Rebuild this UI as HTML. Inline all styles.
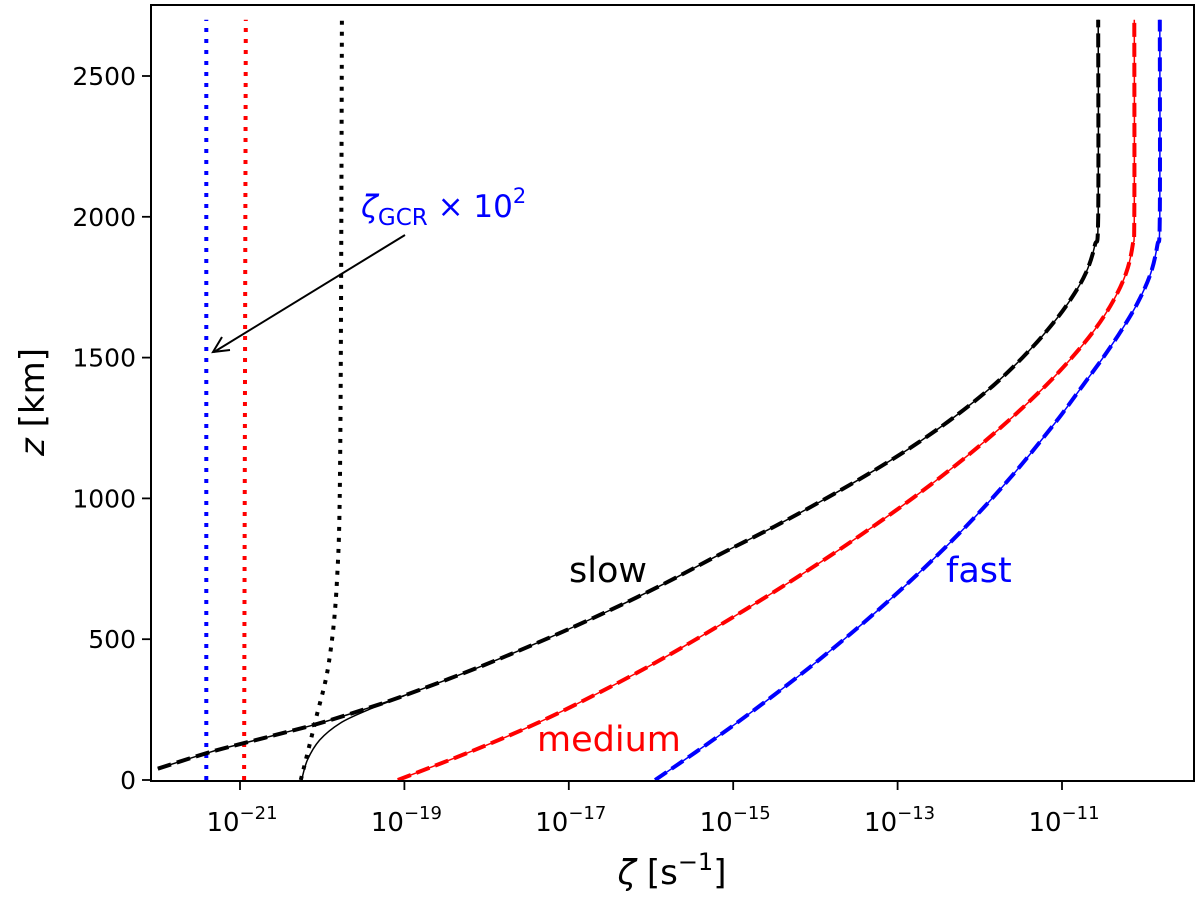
<!DOCTYPE html>
<html><head><meta charset="utf-8"><style>
html,body{margin:0;padding:0;background:#fff;}
svg{display:block;font-family:"DejaVu Sans","Liberation Sans",sans-serif;}
</style></head><body>
<div style="position:relative;width:1200px;height:897px">
<svg id="chart" width="1200" height="897" viewBox="0 0 1200 897" style="position:absolute;left:0;top:0"></svg>
<svg width="1200" height="897" style="position:absolute;left:0;top:0;font-family:'DejaVu Sans','Liberation Sans',sans-serif">
  <text x="672" y="884" text-anchor="middle" font-size="34"><tspan font-style="italic">ζ</tspan> [s<tspan dy="-14" font-size="24">−1</tspan><tspan dy="14">]</tspan></text>
  <text transform="translate(44,402) rotate(-90)" text-anchor="middle" font-size="34"><tspan font-style="italic">z</tspan> [km]</text>
  <text x="569" y="582" font-size="35" fill="#000">slow</text>
  <text x="537" y="751" font-size="35" fill="#ff0000">medium</text>
  <text x="946" y="582" font-size="35" fill="#0000ff">fast</text>
  <text x="361" y="217" font-size="31" fill="#0000ff"><tspan font-style="italic">ζ</tspan><tspan font-size="23" dy="8">GCR</tspan><tspan dy="-8"> × 10</tspan><tspan font-size="21" dy="-14">2</tspan></text>
  <line x1="405" y1="235" x2="214" y2="352" stroke="#000" stroke-width="2"/>
  <polyline points="222,337 213,352 230,350" fill="none" stroke="#000" stroke-width="2"/>
</svg>
</div>
<script>
const xTicks=[-21,-19,-17,-15,-13,-11];
const yTicks=[0,500,1000,1500,2000,2500];
const slowZ=[40,100,150,200,250,300,400,500,600,700,800,900,1000,1100,1200,1300,1400,1500,1600,1700,1800,1900,2000,2700];
const slowLog=[-22.0,-21.35,-20.7,-20.05,-19.5,-19.0,-18.1,-17.28,-16.52,-15.82,-15.17,-14.5,-13.87,-13.28,-12.74,-12.26,-11.84,-11.48,-11.17,-10.91,-10.71,-10.6,-10.56,-10.56];
const medZ=[0,100,200,300,400,500,600,700,800,900,1000,1100,1200,1300,1400,1500,1600,1700,1800,1900,2000,2700];
const medLog=[-19.08,-18.2,-17.4,-16.7,-16.05,-15.45,-14.88,-14.33,-13.8,-13.3,-12.82,-12.37,-11.95,-11.56,-11.2,-10.88,-10.6,-10.38,-10.22,-10.14,-10.12,-10.12];
const fastZ=[0,100,200,300,400,500,600,700,800,900,1000,1100,1200,1300,1400,1500,1600,1700,1800,1900,2000,2700];
const fastLog=[-15.95,-15.45,-14.97,-14.51,-14.07,-13.65,-13.25,-12.87,-12.51,-12.17,-11.85,-11.55,-11.27,-11.0,-10.75,-10.5,-10.27,-10.07,-9.92,-9.84,-9.81,-9.81];
const slowThinZ=[0,71,142,202,248,284,300];
const slowThinLog=[-20.25,-20.18,-20.03,-19.78,-19.45,-19.14,-19.0];
const gcrSlowZ=[0,213,415,710,1200,2700];
const gcrSlowLog=[-20.26,-20.08,-19.92,-19.82,-19.78,-19.76];
const gcrMedZ=[0,2700];
const gcrMedLog=[-20.95,-20.93];
const gcrFastZ=[0,2700];
const gcrFastLog=[-21.41,-21.41];

const L=151,R=1194,T=5,B=781;
const X=v=>240+(v+21)*82.2;
const Y=z=>780-z*0.2816;
const NS="http://www.w3.org/2000/svg";
const svg=document.getElementById('chart');
function mk(tag,attrs,parent){const e=document.createElementNS(NS,tag);for(const k in attrs)e.setAttribute(k,attrs[k]);(parent||svg).appendChild(e);return e;}
const defs=mk('defs',{});
const cp=mk('clipPath',{id:'clip'},defs);
mk('rect',{x:L,y:T,width:R-L,height:B-T},cp);
const g=mk('g',{'clip-path':'url(#clip)'});


function smoothPath(pts){
  if(pts.length<3)return pts.map((p,i)=>(i?'L':'M')+p[0].toFixed(1)+','+p[1].toFixed(1)).join(' ');
  let d='M'+pts[0][0].toFixed(1)+','+pts[0][1].toFixed(1);
  for(let i=0;i<pts.length-1;i++){
    const p0=pts[Math.max(0,i-1)],p1=pts[i],p2=pts[i+1],p3=pts[Math.min(pts.length-1,i+2)];
    const c1=[p1[0]+(p2[0]-p0[0])/6,p1[1]+(p2[1]-p0[1])/6];
    const c2=[p2[0]-(p3[0]-p1[0])/6,p2[1]-(p3[1]-p1[1])/6];
    d+=' C'+c1[0].toFixed(1)+','+c1[1].toFixed(1)+' '+c2[0].toFixed(1)+','+c2[1].toFixed(1)+' '+p2[0].toFixed(1)+','+p2[1].toFixed(1);
  }
  return d;
}
function line(zs,ls,color,w,dash,name){
  const pts=zs.map((z,i)=>[X(ls[i]),Y(z)]);
  const p=mk('path',{d:smoothPath(pts),fill:'none',stroke:color,'stroke-width':w,'stroke-dasharray':dash||'none','stroke-linejoin':'round'},g);
  
  
}
line(gcrFastZ,gcrFastLog,'#0000ff',4,'4,7','gcr-fast-dotted');
line(gcrMedZ,gcrMedLog,'#ff0000',4,'4,7','gcr-medium-dotted');
line(gcrSlowZ,gcrSlowLog,'#000',4,'4,7','gcr-slow-dotted');
line(slowThinZ,slowThinLog,'#000',1.5,null,'slow-solid-thin');
line(slowZ,slowLog,'#000',1.5,null,'slow-solid');
line(slowZ,slowLog,'#000',4,'14,6','slow-dashed');
line(medZ,medLog,'#ff0000',1.5,null,'medium-solid');
line(medZ,medLog,'#ff0000',4,'14,6','medium-dashed');
line(fastZ,fastLog,'#0000ff',1.5,null,'fast-solid');
line(fastZ,fastLog,'#0000ff',4,'14,6','fast-dashed');

const frame=mk('rect',{x:L,y:T,width:R-L,height:B-T,fill:'none',stroke:'#000','stroke-width':2});



xTicks.forEach(t=>{
  const x=X(t);
  const tk=mk('line',{x1:x,y1:B,x2:x,y2:B+9,stroke:'#000','stroke-width':1.8});
  
  
  const tx=mk('text',{x:x+2,y:831,'text-anchor':'middle','font-size':26});
  
  
  tx.appendChild(document.createTextNode('10'));
  const s=mk('tspan',{dy:-12,'font-size':18},tx);s.textContent='\u2212'+Math.abs(t);
});
yTicks.forEach(t=>{
  const y=Y(t);
  const tk=mk('line',{x1:L-9,y1:y,x2:L,y2:y,stroke:'#000','stroke-width':1.8});
  
  
  const tx=mk('text',{x:L-15,y:y+9,'text-anchor':'end','font-size':25});
  
  
  tx.textContent=t;
});
</script>
</body></html>
